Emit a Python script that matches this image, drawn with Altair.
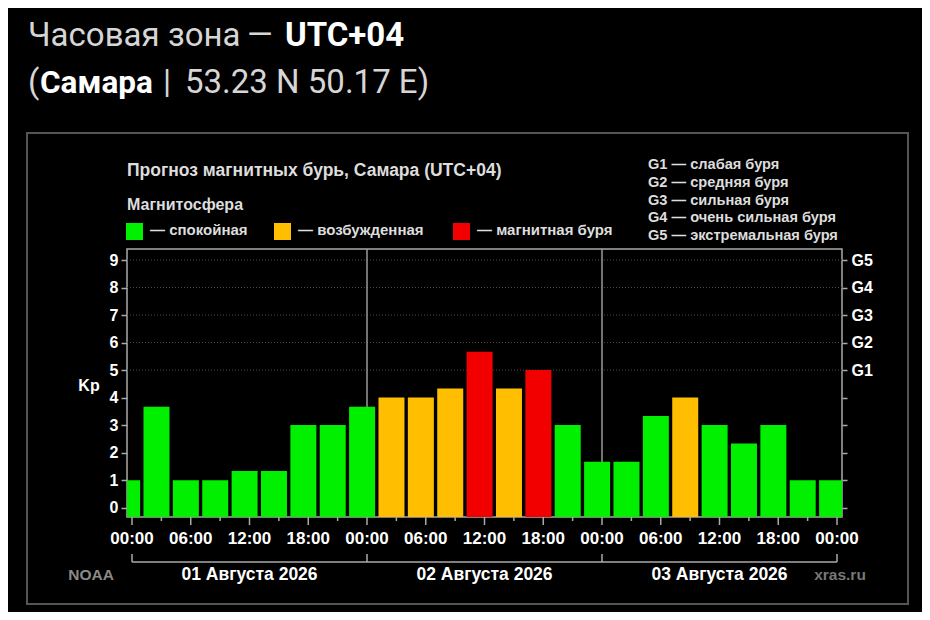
import pandas as pd
import altair as alt

# 3-hour Kp forecast, bar centres in hours from 01 Aug 00:00 (UTC+04)
hours = [-0.5, 2.5, 5.5, 8.5, 11.5, 14.5, 17.5, 20.5, 23.5,
         26.5, 29.5, 32.5, 35.5, 38.5, 41.5, 44.5, 47.5,
         50.5, 53.5, 56.5, 59.5, 62.5, 65.5, 68.5, 71.5]
kp = [1, 3.67, 1, 1, 1.33, 1.33, 3, 3, 3.67,
      4, 4, 4.33, 5.67, 4.33, 5, 3, 1.67,
      1.67, 3.33, 4, 3, 2.33, 3, 1, 1]
CALM, EXC, STORM = "спокойная", "возбужденная", "магнитная буря"
level = [CALM] * 9 + [EXC, EXC, EXC, STORM, EXC, STORM, CALM, CALM] + \
        [CALM, CALM, EXC, CALM, CALM, CALM, CALM, CALM]

levels = [CALM, EXC, STORM]
level_colors = ["#00f000", "#ffbf00", "#f20000"]

# time axis: labelled ticks every 6 h, short ticks in between
major_ticks = [0, 6, 12, 18, 24, 30, 36, 42, 48, 54, 60, 66, 72]
major_labels = ["00:00", "06:00", "12:00", "18:00"] * 3 + ["00:00"]
minor_ticks = [3, 9, 15, 21, 27, 33, 39, 45, 51, 57, 63, 69]

days = ["01 Августа 2026", "02 Августа 2026", "03 Августа 2026"]
day_mid = [12, 36, 60]
day_edges = [0, 24, 48, 72]
day_lines = [24, 48]

g_kp = [5, 6, 7, 8, 9]
g_notes = ["G1 — слабая буря", "G2 — средняя буря", "G3 — сильная буря",
           "G4 — очень сильная буря", "G5 — экстремальная буря"]

df = pd.DataFrame({"hour": hours, "kp": kp, "level": level})

FONT = "Liberation Sans"
xs = alt.Scale(domain=[0, 72], nice=False, zero=False)
ys = alt.Scale(domain=[-0.34, 9.4], nice=False, zero=False)
one = alt.Data(values=[{"a": 1}])
AXC = "#aaaaaa"


def txt(s, x, y, size=14, weight="bold", color="#dddddd", font=FONT, align="left"):
    return alt.Chart(one).mark_text(
        text=s, fontSize=size, fontWeight=weight, color=color, font=font,
        align=align, baseline="alphabetic"
    ).encode(x=alt.value(x), y=alt.value(y))


# outer frame
frame = alt.Chart(one).mark_rect(fill="transparent", stroke="#555555", strokeWidth=2).encode(
    x=alt.value(-100), x2=alt.value(781), y=alt.value(-116), y2=alt.value(355)
)

# dotted grid at storm levels + right axis with G labels
grid = alt.Chart(pd.DataFrame({"g": g_kp})).mark_rule(
    color="#4a4a4a", strokeDash=[1, 2], strokeWidth=1
).encode(
    y=alt.Y("g:Q", scale=ys, axis=alt.Axis(
        orient="right", values=list(range(10)), title=None, grid=False, domain=False,
        labelExpr="datum.value >= 5 ? 'G' + (datum.value - 4) : ''",
        labelFont=FONT, labelFontWeight="bold", labelFontSize=16, labelColor="#ffffff",
        tickColor=AXC, tickSize=5, tickWidth=1.5, labelPadding=4
    ))
)

seps = alt.Chart(pd.DataFrame({"d": day_lines})).mark_rule(color="#9a9a9a", strokeWidth=1.5).encode(
    x=alt.X("d:Q", scale=xs, axis=None)
)

bars = alt.Chart(df).mark_bar(size=26, clip=True).encode(
    x=alt.X("hour:Q", scale=xs, axis=None),
    y=alt.Y("kp:Q", scale=ys, axis=alt.Axis(
        values=list(range(10)), title=None, grid=False, domain=False,
        labelFont=FONT, labelFontWeight="bold", labelFontSize=16, labelColor="#ffffff",
        tickColor=AXC, tickSize=6, tickWidth=1.5, labelPadding=3
    )),
    y2=alt.datum(-0.34),
    color=alt.Color("level:N", scale=alt.Scale(domain=levels, range=level_colors), legend=None)
)

# time axis drawn on the shared x scale
major = alt.Chart(pd.DataFrame({"t": major_ticks, "lab": major_labels}))
major_rules = major.mark_rule(color=AXC, strokeWidth=1.5).encode(
    x=alt.X("t:Q", scale=xs, axis=None), y=alt.value(268), y2=alt.value(276)
)
major_text = major.mark_text(
    font=FONT, fontWeight="bold", fontSize=17, color="#ffffff", baseline="alphabetic"
).encode(x=alt.X("t:Q", scale=xs, axis=None), y=alt.value(295), text="lab:N")
minor = alt.Chart(pd.DataFrame({"t": minor_ticks})).mark_rule(color=AXC, strokeWidth=1.5).encode(
    x=alt.X("t:Q", scale=xs, axis=None), y=alt.value(268), y2=alt.value(272)
)

# bracket under the time axis with date labels
bracket = alt.Chart(pd.DataFrame({"s": [day_edges[0]], "e": [day_edges[-1]]})).mark_rule(
    color=AXC, strokeWidth=1.5
).encode(
    x=alt.X("s:Q", scale=xs, axis=None), x2="e:Q", y=alt.value(313)
)
bracket_ticks = alt.Chart(pd.DataFrame({"e": day_edges})).mark_rule(color=AXC, strokeWidth=1.5).encode(
    x=alt.X("e:Q", scale=xs, axis=None), y=alt.value(305), y2=alt.value(313)
)
date_text = alt.Chart(pd.DataFrame({"m": day_mid, "day": days})).mark_text(
    font=FONT, fontWeight="bold", fontSize=17.5, color="#ffffff", baseline="alphabetic"
).encode(x=alt.X("m:Q", scale=xs, axis=None), y=alt.value(331), text="day:N")

# header and legend
HEAD = "Roboto"
GREY = "#d6d6d6"
texts = [
    txt("Часовая", -99, -203, size=33, weight="normal", color=GREY, font=HEAD),
    txt("зона", 41, -203, size=33, weight="normal", color=GREY, font=HEAD),
    txt("—", 120, -203, size=33, weight="normal", color=GREY, font=HEAD),
    txt("UTC+04", 158, -203, size=33, weight="bold", color="#ffffff", font=HEAD),
    txt("(", -99, -156, size=33, weight="normal", color=GREY, font=HEAD),
    txt("Самара", -87, -156, size=31.5, weight="bold", color="#ffffff", font=HEAD),
    txt("|", 36, -156, size=33, weight="normal", color=GREY, font=HEAD),
    txt("53.23 N 50.17 E)", 58, -156, size=33, weight="normal", color=GREY, font=HEAD),
    txt("Прогноз магнитных бурь, Самара (UTC+04)", 0, -73, size=17.5),
    txt("Магнитосфера", 0, -39, size=16),
    txt("Kp", -38, 142, size=16, color="#ffffff", align="center"),
    txt("NOAA", -36, 331, size=15.5, color="#8a8a8a", align="center"),
    txt("xras.ru", 713, 331, size=15.5, color="#777777", align="center"),
]
for lx, name, col in zip([-1, 147, 326], levels, level_colors):
    texts.append(alt.Chart(one).mark_rect(color=col).encode(
        x=alt.value(lx), x2=alt.value(lx + 17), y=alt.value(-26), y2=alt.value(-9)))
    texts.append(txt("— " + name, lx + 24, -14, size=15))
for i, note in enumerate(g_notes):
    texts.append(txt(note, 521, -80 + i * 17.8, size=14.6))

chart = alt.layer(
    frame, grid, seps, bars, major_rules, minor, major_text,
    bracket, bracket_ticks, date_text, *texts
).resolve_axis(y="independent").properties(
    width=715, height=268,
    autosize=alt.AutoSizeParams(type="none"),
    padding={"left": 119, "top": 241, "right": 80, "bottom": 95},
    background="#000000"
).configure_view(stroke=AXC, strokeWidth=1.5)

chart.save("out.html", embed_options={"renderer": "svg", "actions": False})
